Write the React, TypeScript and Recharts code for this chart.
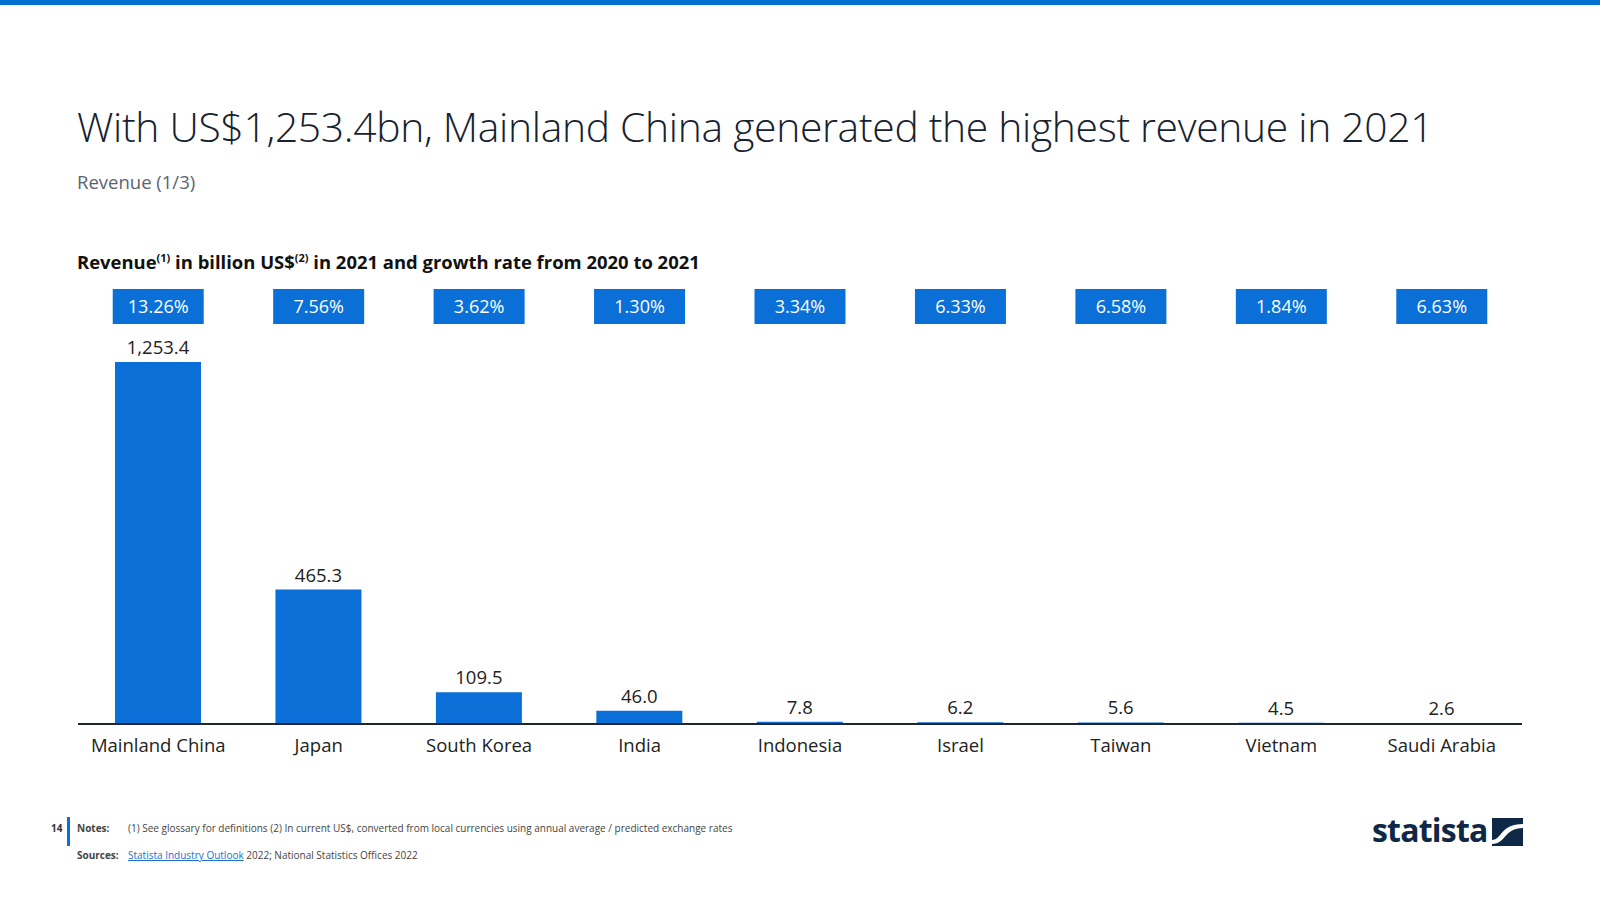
import React from 'react'
import { BarChart, Bar, XAxis, YAxis, LabelList } from 'recharts'

const countries = ['Mainland China', 'Japan', 'South Korea', 'India', 'Indonesia', 'Israel', 'Taiwan', 'Vietnam', 'Saudi Arabia']
const revenue = [1253.4, 465.3, 109.5, 46.0, 7.8, 6.2, 5.6, 4.5, 2.6]
const growth = ['13.26%', '7.56%', '3.62%', '1.30%', '3.34%', '6.33%', '6.58%', '1.84%', '6.63%']

const BLUE = '#0a6fd6'
const INK = '#1c2733'
const FONT = '"Open Sans", "Noto Sans", sans-serif'

const data = countries.map((name, i) => ({ name, revenue: revenue[i], growth: growth[i] }))

function GrowthTick(props: any) {
  const { x, payload } = props
  return (
    <g>
      <rect x={x - 45.5} y={289} width={91} height={35} fill={BLUE} />
      <text x={x} y={306.5} dy="0.35em" textAnchor="middle" fill="#fff" fontSize={18} fontFamily={FONT}>
        {payload.value}
      </text>
    </g>
  )
}

function fmt(v: number) {
  return v.toLocaleString('en-US', { minimumFractionDigits: 1, maximumFractionDigits: 1 })
}

export default function App() {
  return (
    <div style={{ position: 'absolute', left: 0, top: 0, width: 1600, height: 900, background: '#fff', fontFamily: FONT, overflow: 'hidden' }}>
      <div style={{ position: 'absolute', left: 0, top: 0, width: 1600, height: 5, background: '#0070d1' }} />
      <div style={{ position: 'absolute', left: 77, top: 98, fontSize: 40.8, fontWeight: 300, color: '#16222f', whiteSpace: 'nowrap', letterSpacing: -0.3 }}>
        With US$1,253.4bn, Mainland China generated the highest revenue in 2021
      </div>
      <div style={{ position: 'absolute', left: 77, top: 169, fontSize: 18.5, color: '#5a6470' }}>Revenue (1/3)</div>
      <div style={{ position: 'absolute', left: 77, top: 249, fontSize: 18.45, fontWeight: 700, color: '#111', whiteSpace: 'nowrap' }}>
        Revenue<sup style={{ fontSize: 11 }}>(1)</sup> in billion US$<sup style={{ fontSize: 11 }}>(2)</sup> in 2021 and growth rate from 2020 to 2021
      </div>

      <div style={{ position: 'absolute', left: 0, top: 0 }}>
        <BarChart width={1600} height={900} data={data} margin={{ top: 322, right: 78, bottom: 146, left: 78 }}>
          <XAxis
            xAxisId="top"
            orientation="top"
            dataKey="growth"
            height={40}
            axisLine={false}
            tickLine={false}
            interval={0}
            tick={<GrowthTick />}
          />
          <XAxis
            dataKey="name"
            height={30}
            interval={0}
            tickLine={false}
            axisLine={{ stroke: INK, strokeWidth: 2 }}
            tick={{ fontSize: 18.5, fill: '#222', fontFamily: FONT }}
            tickMargin={9}
          />
          <YAxis hide domain={[0, 1253.4]} />
          <Bar dataKey="revenue" fill={BLUE} barSize={86} isAnimationActive={false}>
            <LabelList dataKey="revenue" position="top" offset={8} formatter={(v: any) => fmt(Number(v))} style={{ fontSize: 18.5, fill: '#222', fontFamily: FONT }} />
          </Bar>
        </BarChart>
      </div>

      <div style={{ position: 'absolute', left: 67, top: 817, width: 3, height: 29, background: BLUE }} />
      <div style={{ position: 'absolute', left: 51, top: 821, fontSize: 10, fontWeight: 700, color: '#333' }}>14</div>
      <div style={{ position: 'absolute', left: 77, top: 821, fontSize: 10, color: '#444', whiteSpace: 'nowrap' }}>
        <span style={{ fontWeight: 700, display: 'inline-block', width: 51 }}>Notes:</span>
        (1) See glossary for definitions (2) In current US$, converted from local currencies using annual average / predicted exchange rates
      </div>
      <div style={{ position: 'absolute', left: 77, top: 848, fontSize: 10, color: '#444', whiteSpace: 'nowrap' }}>
        <span style={{ fontWeight: 700, display: 'inline-block', width: 51 }}>Sources:</span>
        <span style={{ color: '#1a73c9', textDecoration: 'underline' }}>Statista Industry Outlook</span> 2022; National Statistics Offices 2022
      </div>

      <div style={{ position: 'absolute', left: 1372, top: 810, fontSize: 32, fontWeight: 700, color: '#0e2845', letterSpacing: -0.8, lineHeight: '40px' }}>
        statista
      </div>
      <svg style={{ position: 'absolute', left: 1492, top: 818 }} width={31} height={28}>
        <rect x={0} y={0} width={31} height={28} fill="#0e2845" />
        <path d="M0 22 C10 22 8 6 31 6 L31 10 C12 10 14 26 0 26 Z" fill="#fff" />
      </svg>
    </div>
  )
}
